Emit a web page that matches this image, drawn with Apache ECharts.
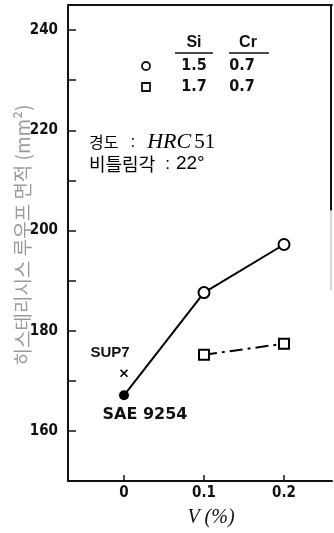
<!DOCTYPE html>
<html>
<head>
<meta charset="utf-8">
<script src="https://cdn.jsdelivr.net/npm/echarts@6/dist/echarts.min.js"></script>
<style>
  html, body { margin: 0; padding: 0; background: #fff; }
  #chart { width: 334px; height: 533px; }
</style>
</head>
<body>
<div id="chart"></div>
<script>
// V content (%) on the x axis, hysteresis loop area (mm²) on the y axis
const xTickValues = [0, 0.1, 0.2];
const yLabelValues = [160, 180, 200, 220, 240];

// Si 1.5 / Cr 0.7 steel (open circles)
const circleV = [0.1, 0.2];
const circleArea = [187.6, 197.2];

// Si 1.7 / Cr 0.7 steel (open squares)
const squareV = [0.1, 0.2];
const squareArea = [175.2, 177.4];

// reference grades at V = 0
const saeV = 0, saeArea = 167.1;      // SAE 9254
const sup7V = 0, sup7Area = 171.5;    // SUP7

const legendRows = [
  { mark: 'circle', si: '1.5', cr: '0.7' },
  { mark: 'rect',   si: '1.7', cr: '0.7' }
];

const NARROW = "'Liberation Sans Narrow', 'DejaVu Sans Condensed', sans-serif";
const SANS = "'Liberation Sans', Arial, sans-serif";
const SERIF = "'Liberation Serif', 'DejaVu Serif', serif";
const KR = "'Noto Sans CJK KR', sans-serif";

const chart = echarts.init(document.getElementById('chart'), null, { renderer: 'canvas' });

const siLine = [[saeV, saeArea]].concat(circleV.map((v, i) => [v, circleArea[i]]));
const siData = siLine.map((p, i) => i === 0
  ? {
      value: p,
      symbol: 'circle',
      symbolSize: 10,
      itemStyle: { color: '#000', borderColor: '#000', borderWidth: 0 },
      label: {
        show: true, formatter: 'SAE 9254', position: 'bottom', offset: [21, 2],
        fontFamily: "'DejaVu Sans', sans-serif", fontWeight: 'bold', fontSize: 16, color: '#111'
      }
    }
  : { value: p });

const option = {
  animation: false,
  backgroundColor: '#fff',
  grid: { left: 68, right: 2, top: 5, bottom: 46, containLabel: false },
  xAxis: [{
    type: 'value',
    min: -0.07,
    max: 0.26,
    name: 'V (%)',
    nameLocation: 'middle',
    nameGap: 27,
    nameTextStyle: {
      fontFamily: SERIF, fontStyle: 'italic', fontSize: 20, color: '#111',
      padding: [0, 0, 0, 22]
    },
    axisLine: { show: true, onZero: false, lineStyle: { color: '#111', width: 2 } },
    axisTick: { show: true, inside: true, length: 6, customValues: xTickValues,
                lineStyle: { color: '#111', width: 1.5 } },
    axisLabel: {
      show: true, customValues: xTickValues, margin: 5,
      formatter: v => (v === 0 ? '0' : v.toFixed(1)),
      fontFamily: NARROW, fontWeight: 'bold', fontSize: 15, color: '#111'
    },
    splitLine: { show: false }
  }, {
    type: 'value',
    position: 'top',
    min: -0.07,
    max: 0.26,
    axisLine: { show: true, onZero: false, lineStyle: { color: '#111', width: 2 } },
    axisTick: { show: false },
    axisLabel: { show: false },
    splitLine: { show: false }
  }],
  yAxis: {
    type: 'value',
    position: 'left',
    min: 150,
    max: 245,
    interval: 10,
    axisLine: { show: true, onZero: false, lineStyle: { color: '#111', width: 2 } },
    axisTick: { show: true, inside: true, length: 8, lineStyle: { color: '#111', width: 1.5 } },
    axisLabel: {
      margin: 10,
      showMaxLabel: false,
      formatter: v => (yLabelValues.indexOf(v) >= 0 ? String(v) : ''),
      fontFamily: NARROW, fontWeight: 'bold', fontSize: 15, color: '#111'
    },
    splitLine: { show: false }
  },
  series: [
    {
      name: 'Si 1.5',
      type: 'line',
      data: siData,
      symbol: 'circle',
      symbolSize: 11,
      itemStyle: { color: '#fff', borderColor: '#000', borderWidth: 2 },
      lineStyle: { color: '#000', width: 2 },
      z: 3
    },
    {
      name: 'Si 1.7',
      type: 'line',
      data: squareV.map((v, i) => [v, squareArea[i]]),
      symbol: 'rect',
      symbolSize: 10,
      itemStyle: { color: '#fff', borderColor: '#000', borderWidth: 2 },
      lineStyle: { color: '#000', width: 2, type: [13, 5, 3, 5] },
      z: 3
    },
    {
      name: 'SUP7',
      type: 'scatter',
      data: [[sup7V, sup7Area]],
      symbol: 'path://M0,0L10,10M10,0L0,10',
      symbolSize: 7,
      itemStyle: { color: 'none', borderColor: '#000', borderWidth: 1.6, opacity: 1 },
      label: {
        show: true, formatter: 'SUP7', position: 'top', offset: [-14, -2],
        fontFamily: SANS, fontWeight: 'bold', fontSize: 15, color: '#111'
      },
      z: 3
    }
  ]
};

chart.setOption(option);

// legend table, notes, rotated y title and the right frame edge
const topRight = chart.convertToPixel({ xAxisIndex: 0, yAxisIndex: 0 }, [0.26, 245]);
const rightMid = chart.convertToPixel({ xAxisIndex: 0, yAxisIndex: 0 }, [0.26, 204]);
const rightLow = chart.convertToPixel({ xAxisIndex: 0, yAxisIndex: 0 }, [0.26, 188]);

const graphics = [];

// right frame edge, strong at the top and faint lower down
graphics.push({
  type: 'line', shape: { x1: topRight[0] - 1, y1: topRight[1], x2: rightMid[0] - 1, y2: rightMid[1] },
  style: { stroke: '#111', lineWidth: 2 }, z: 5
});
graphics.push({
  type: 'line', shape: { x1: rightMid[0] - 1, y1: rightMid[1], x2: rightLow[0] - 1, y2: rightLow[1] },
  style: { stroke: '#aaa', lineWidth: 1 }, z: 5
});

// legend headers with underlines
const headers = [
  { text: 'Si', cx: 194, x1: 175, x2: 213 },
  { text: 'Cr', cx: 248, x1: 229, x2: 269 }
];
headers.forEach(h => {
  graphics.push({
    type: 'text', x: h.cx, y: 43,
    style: { text: h.text, font: "bold 16px " + SANS, fill: '#111', align: 'center', verticalAlign: 'middle' }
  });
  graphics.push({
    type: 'line', shape: { x1: h.x1, y1: 53, x2: h.x2, y2: 53 },
    style: { stroke: '#111', lineWidth: 1.5 }
  });
});

// legend rows
legendRows.forEach((r, i) => {
  const cy = 66 + i * 21;
  if (r.mark === 'circle') {
    graphics.push({ type: 'circle', shape: { cx: 146, cy: cy, r: 4 },
      style: { fill: '#fff', stroke: '#111', lineWidth: 1.8 } });
  } else {
    graphics.push({ type: 'rect', shape: { x: 142, y: cy - 4, width: 8, height: 8 },
      style: { fill: '#fff', stroke: '#111', lineWidth: 1.8 } });
  }
  graphics.push({ type: 'text', x: 194, y: cy,
    style: { text: r.si, font: "bold 16px " + NARROW, fill: '#111', align: 'center', verticalAlign: 'middle' } });
  graphics.push({ type: 'text', x: 242, y: cy,
    style: { text: r.cr, font: "bold 16px " + NARROW, fill: '#111', align: 'center', verticalAlign: 'middle' } });
});

// test conditions
graphics.push({
  type: 'text', x: 89, y: 142,
  style: {
    text: '{k|경도}{c|:}{i|HRC}{n|51}',
    verticalAlign: 'middle',
    rich: {
      k: { fontFamily: KR, fontSize: 16, color: '#222' },
      c: { fontFamily: SANS, fontSize: 17, color: '#222', padding: [0, 0, 0, 12] },
      i: { fontFamily: SERIF, fontStyle: 'italic', fontSize: 22, color: '#222', padding: [0, 0, 0, 12] },
      n: { fontFamily: SERIF, fontSize: 21, color: '#222', padding: [0, 0, 0, 3] }
    }
  }
});
graphics.push({
  type: 'text', x: 89, y: 164,
  style: {
    text: '{k|비틀림각}{c|:}{n|22°}',
    verticalAlign: 'middle',
    rich: {
      k: { fontFamily: KR, fontSize: 18, color: '#222' },
      c: { fontFamily: SANS, fontSize: 17, color: '#222', padding: [0, 0, 0, 10] },
      n: { fontFamily: SANS, fontSize: 19, color: '#222', padding: [0, 0, 0, 6] }
    }
  }
});

// y axis title
graphics.push({
  type: 'text', x: 23, y: 235, rotation: Math.PI / 2,
  style: {
    text: '히스테리시스 루우프 면적 (mm²)',
    font: "19px " + KR, fill: '#9a9a9a', align: 'center', verticalAlign: 'middle'
  }
});

chart.setOption({ graphic: graphics });
</script>
</body>
</html>
